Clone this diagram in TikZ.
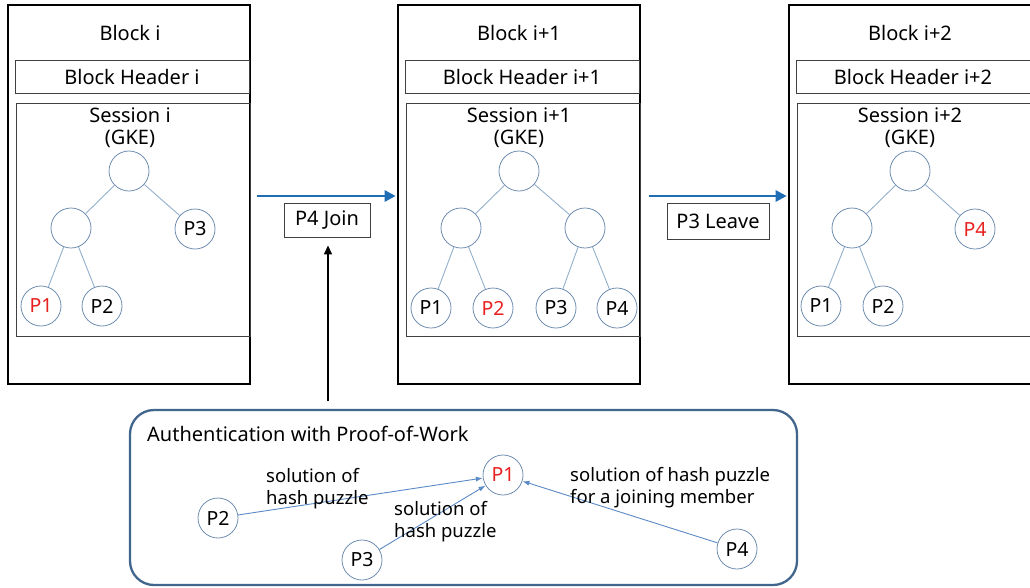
\documentclass[tikz,border=0pt]{standalone}
\usepackage{fontspec}
\setmainfont{Noto Sans}
\usetikzlibrary{arrows.meta}
\definecolor{arrowblue}{HTML}{1F6DB5}
\definecolor{circ}{HTML}{6F8DB0}
\definecolor{edgec}{HTML}{93AFCB}
\definecolor{authb}{HTML}{41658C}
\definecolor{smallarr}{HTML}{5B8AC6}
\definecolor{pred}{HTML}{E8211F}
\tikzset{
  bigfont/.style={font=\fontsize{20}{24}\selectfont},
  blockbox/.style={draw, line width=2.6pt, minimum width=242pt, minimum height=379pt, inner sep=0pt},
  headbox/.style={draw=black!75, line width=0.9pt, minimum width=234pt, minimum height=33pt, inner sep=0pt, bigfont},
  sessbox/.style={draw=black!75, line width=0.9pt, minimum width=234pt, minimum height=233pt, inner sep=0pt},
  mem/.style={circle, draw=circ, line width=0.8pt, minimum size=40pt, inner sep=0pt, font=\fontsize{19.5}{22}\selectfont},
  tedge/.style={draw=edgec, line width=0.9pt},
  txt/.style={inner sep=0pt, align=center},
  btxt/.style={txt, bigfont},
  bigarrow/.style={draw=arrowblue, line width=2.6pt, -{Triangle[length=11pt,width=11pt]}},
  labbox/.style={draw=black!75, line width=0.9pt, inner sep=0pt, bigfont},
  authbox/.style={draw=authb, line width=2.3pt, rounded corners=24pt, minimum width=667pt, minimum height=175pt, inner sep=0pt},
  pwarrow/.style={draw=smallarr, line width=0.9pt, -{Latex[length=7pt,width=5pt]}},
}
\begin{document}
\begin{tikzpicture}[x=1pt,y=-1pt,font=\fontsize{18.5}{22}\selectfont]
\useasboundingbox (0,0) rectangle (1030,587);
\clip (0,0) rectangle (1030,587);
% ---- Block i
\node[blockbox] (b1) at (129,194.5) {};
\node[btxt] (b1t) at (130,33) {Block i};
\node[headbox] (h1) at (132,76.5) {Block Header i};
\node[sessbox] (s1) at (133,219.5) {};
\node[btxt] (s1t) at (130,115) {Session i};
\node[btxt] (s1g) at (130,139) {(GKE)};
\node[mem] (r1) at (129,171) {};
\node[mem] (l1) at (71,228) {};
\node[mem] (p31) at (195,229) {P3};
\node[mem,text=pred] (p11) at (41,306) {P1};
\node[mem] (p21) at (102,306) {P2};
\draw[tedge] (r1) -- (l1);
\draw[tedge] (r1) -- (p31);
\draw[tedge] (l1) -- (p11);
\draw[tedge] (l1) -- (p21);
% ---- Block i+1
\node[blockbox] (b2) at (519,194.5) {};
\node[btxt] (b2t) at (519,33) {Block i+1};
\node[headbox] (h2) at (522,76.5) {Block Header i+1};
\node[sessbox] (s2) at (523,219.5) {};
\node[btxt] (s2t) at (519,115) {Session i+1};
\node[btxt] (s2g) at (519,139) {(GKE)};
\node[mem] (r2) at (519,171) {};
\node[mem] (l2) at (461,228) {};
\node[mem] (rr2) at (585,228) {};
\node[mem] (p12) at (431,308) {P1};
\node[mem,text=pred] (p22) at (493,308) {P2};
\node[mem] (p32) at (556,308) {P3};
\node[mem] (p42) at (617,308) {P4};
\draw[tedge] (r2) -- (l2);
\draw[tedge] (r2) -- (rr2);
\draw[tedge] (l2) -- (p12);
\draw[tedge] (l2) -- (p22);
\draw[tedge] (rr2) -- (p32);
\draw[tedge] (rr2) -- (p42);
% ---- Block i+2
\node[blockbox] (b3) at (910,194.5) {};
\node[btxt] (b3t) at (910,33) {Block i+2};
\node[headbox] (h3) at (913,76.5) {Block Header i+2};
\node[sessbox] (s3) at (914,219.5) {};
\node[btxt] (s3t) at (910,115) {Session i+2};
\node[btxt] (s3g) at (910,139) {(GKE)};
\node[mem] (r3) at (910,171) {};
\node[mem] (l3) at (852,228) {};
\node[mem,text=pred] (p43) at (975,229) {P4};
\node[mem] (p13) at (821,306) {P1};
\node[mem] (p23) at (883,306) {P2};
\draw[tedge] (r3) -- (l3);
\draw[tedge] (r3) -- (p43);
\draw[tedge] (l3) -- (p13);
\draw[tedge] (l3) -- (p23);
% ---- transitions
\draw[bigarrow, shorten <=6pt, shorten >=1pt] ([yshift=-1.5pt]b1.east) -- ([yshift=-1.5pt]b2.west);
\draw[bigarrow, shorten <=8pt, shorten >=1pt] ([yshift=-1.5pt]b2.east) -- ([yshift=-1.5pt]b3.west);
\node[labbox, minimum width=86pt, minimum height=34pt] (join) at (327,220) {P4 Join};
\node[labbox, minimum width=102pt, minimum height=36pt] (leave) at (718,221.5) {P3 Leave};
\coordinate (jstart) at (328,401);
\draw[line width=1.6pt, -{Triangle[length=9pt,width=8pt]}, shorten >=8pt] (jstart) -- (join.south -| jstart);
% ---- authentication
\node[authbox] (auth) at (463.5,497.5) {};
\node[btxt, anchor=west] (autht) at (147,434) {Authentication with Proof-of-Work};
\node[mem,text=pred] (a1) at (503,475) {P1};
\node[mem] (a2) at (218,518) {P2};
\node[mem] (a3) at (362,560) {P3};
\node[mem] (a4) at (737,549) {P4};
\draw[pwarrow] (a2) -- (a1);
\draw[pwarrow] (a3) -- (a1);
\draw[pwarrow] (a4) -- (a1);
\node[txt, anchor=west, align=left] (lab2) at (266,489) {solution of\\hash puzzle};
\node[txt, anchor=west, align=left] (lab3) at (394,522) {solution of\\hash puzzle};
\node[txt, anchor=west, align=left] (lab4) at (570,488) {solution of hash puzzle\\for a joining member};
\end{tikzpicture}
\end{document}
